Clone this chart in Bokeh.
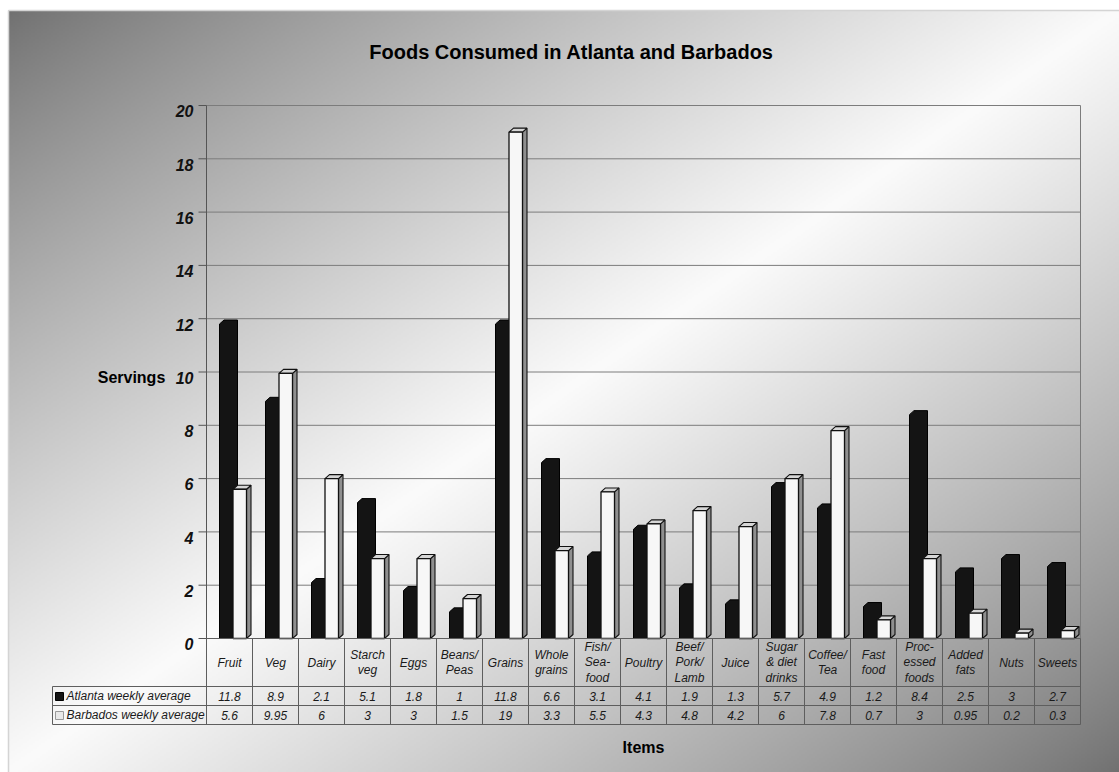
import numpy as np
from bokeh.plotting import figure
from bokeh.models import Range1d
from bokeh.core.properties import value
from bokeh.embed import file_html
from bokeh.resources import INLINE

# ---- data -------------------------------------------------------------
categories = ["Fruit", "Veg", "Dairy", "Starch\nveg", "Eggs", "Beans/\nPeas",
              "Grains", "Whole\ngrains", "Fish/\nSea-\nfood", "Poultry",
              "Beef/\nPork/\nLamb", "Juice", "Sugar\n& diet\ndrinks",
              "Coffee/\nTea", "Fast\nfood", "Proc-\nessed\nfoods",
              "Added\nfats", "Nuts", "Sweets"]
atlanta = [11.8, 8.9, 2.1, 5.1, 1.8, 1, 11.8, 6.6, 3.1, 4.1, 1.9, 1.3, 5.7,
           4.9, 1.2, 8.4, 2.5, 3, 2.7]
barbados = [5.6, 9.95, 6, 3, 3, 1.5, 19, 3.3, 5.5, 4.3, 4.8, 4.2, 6, 7.8,
            0.7, 3, 0.95, 0.2, 0.3]
series_names = ["Atlanta weekly average", "Barbados weekly average"]
y_ticks = [0, 2, 4, 6, 8, 10, 12, 14, 16, 18, 20]
title_text = "Foods Consumed in Atlanta and Barbados"
y_title = "Servings"
x_title = "Items"

# ---- layout (pixels on the page) ---------------------------------------
W, H = 1119, 772
PANEL_L, PANEL_T = 8, 10
PLOT_L, PLOT_R, PLOT_T, PLOT_B = 206, 1080, 105, 638
Y_MAX = 20
n = len(categories)
COL = (PLOT_R - PLOT_L) / n          # pixels per category
UNIT = (PLOT_B - PLOT_T) / Y_MAX     # pixels per serving


def X(px):
    return (px - PLOT_L) / COL


def Y(py):
    return (PLOT_B - py) / UNIT


FONT = value("Liberation Sans")
TABLE_SIZE = "12px"

p = figure(width=W, height=H, x_range=Range1d(X(0), X(W)),
           y_range=Range1d(Y(H), Y(0)), output_backend="svg",
           toolbar_location=None, min_border=0, x_axis_type=None,
           y_axis_type=None, outline_line_color=None)
p.background_fill_color = "white"
p.border_fill_color = "white"

# ---- background: diagonal grey-white-grey panel ------------------------
gw, gh = 556, 381
u = (np.arange(gw) + 0.5) / gw
v = (np.arange(gh) + 0.5) / gh
t = (u[None, :] + v[:, None]) / 2.0
s = (1.0 - np.abs(2.0 * t - 1.0)) ** 0.85
dark, light = 112.0, 251.0
g = (dark + (light - dark) * s).astype(np.uint8)
img = np.empty((gh, gw), dtype=np.uint32)
view = img.view(dtype=np.uint8).reshape((gh, gw, 4))
view[:, :, 0] = g
view[:, :, 1] = g
view[:, :, 2] = g
view[:, :, 3] = 255
img = np.flipud(img)
p.image_rgba(image=[img], x=X(PANEL_L), y=Y(H), dw=(W - PANEL_L) / COL,
             dh=(H - PANEL_T) / UNIT)
p.segment(x0=[X(PANEL_L), X(PANEL_L)], y0=[Y(PANEL_T), Y(PANEL_T)],
          x1=[X(W), X(PANEL_L)], y1=[Y(PANEL_T), Y(H)],
          line_color="#d4d4d4", line_width=1.5)

# ---- plot frame, grid, y axis ------------------------------------------
p.segment(x0=X(PLOT_L), x1=X(PLOT_R), y0=y_ticks, y1=y_ticks,
          line_color="#7c7c7c", line_width=1)
p.segment(x0=[X(PLOT_R)], x1=[X(PLOT_R)], y0=[0], y1=[Y_MAX],
          line_color="#7c7c7c", line_width=1)
p.segment(x0=[X(PLOT_L)], x1=[X(PLOT_L)], y0=[0], y1=[Y_MAX],
          line_color="#555555", line_width=1)
p.segment(x0=X(PLOT_L - 8), x1=X(PLOT_L), y0=y_ticks, y1=y_ticks,
          line_color="#555555", line_width=1)
p.text(x=X(193), y=[tk - 5.8 / UNIT for tk in y_ticks],
       text=[str(tk) for tk in y_ticks], text_align="right",
       text_baseline="alphabetic", text_font=FONT, text_font_size="16px",
       text_font_style="bold italic", text_color="#111111")

# ---- 3D bars -----------------------------------------------------------
idx = np.arange(n)
off_a = 13 / COL
bw = 13.5 / COL
dx = 4.5 / COL
dy = 4 / UNIT

# Atlanta: solid black prisms
xs_a, ys_a = [], []
for i, val in zip(idx, atlanta):
    x0 = i + off_a
    x1 = x0 + bw
    xs_a.append([x0, x0, x0 + dx, x1 + dx, x1 + dx, x1])
    ys_a.append([0, val, val + dy, val + dy, dy, 0])
p.patches(xs=xs_a, ys=ys_a, fill_color="#141414", line_color="#000000",
          line_width=1)

# Barbados: white prisms with grey side and light top
xs_side, ys_side, xs_top, ys_top = [], [], [], []
left_b, right_b = [], []
for i, val in zip(idx, barbados):
    x0 = i + off_a + bw
    x1 = x0 + bw
    left_b.append(x0)
    right_b.append(x1)
    xs_side.append([x1, x1 + dx, x1 + dx, x1])
    ys_side.append([0, dy, val + dy, val])
    xs_top.append([x0, x0 + dx, x1 + dx, x1])
    ys_top.append([val, val + dy, val + dy, val])
p.patches(xs=xs_side, ys=ys_side, fill_color="#8f8f8f", line_color="#111111",
          line_width=1.1)
p.patches(xs=xs_top, ys=ys_top, fill_color="#d6d6d6", line_color="#111111",
          line_width=1.1)
p.quad(left=left_b, right=right_b, bottom=0, top=barbados,
       fill_color="#f7f7f7", line_color="#111111", line_width=1.3)

# ---- data table below the plot -----------------------------------------
ROW0, ROW1, ROW2, ROW3 = PLOT_B, 686, 705, 724
LEG_L = 52
grid_col = "#5e5e5e"
hx0 = [X(PLOT_L), X(LEG_L), X(LEG_L), X(LEG_L)]
hx1 = [X(PLOT_R)] * 4
hy = [Y(ROW0), Y(ROW1), Y(ROW2), Y(ROW3)]
p.segment(x0=hx0, x1=hx1, y0=hy, y1=hy, line_color=grid_col, line_width=1)
vx = [X(PLOT_L) + k for k in range(n + 1)]
p.segment(x0=vx, x1=vx, y0=Y(ROW0), y1=Y(ROW3), line_color=grid_col,
          line_width=1)
p.segment(x0=[X(LEG_L)], x1=[X(LEG_L)], y0=[Y(ROW1)], y1=[Y(ROW3)],
          line_color=grid_col, line_width=1)

p.text(x=idx + 0.5, y=Y((ROW0 + ROW1) / 2), text=categories,
       text_align="center", text_baseline="middle", text_font=FONT,
       text_font_size=TABLE_SIZE, text_font_style="italic",
       text_line_height=1.12, text_color="#1a1a1a")
p.text(x=idx + 0.5, y=Y((ROW1 + ROW2) / 2),
       text=[f"{val:g}" for val in atlanta], text_align="center",
       text_baseline="middle", text_font=FONT, text_font_size=TABLE_SIZE,
       text_font_style="italic", text_color="#1a1a1a")
p.text(x=idx + 0.5, y=Y((ROW2 + ROW3) / 2),
       text=[f"{val:g}" for val in barbados], text_align="center",
       text_baseline="middle", text_font=FONT, text_font_size=TABLE_SIZE,
       text_font_style="italic", text_color="#1a1a1a")

# legend keys inside the table
p.quad(left=[X(55)], right=[X(63)], top=[Y(692)], bottom=[Y(700)],
       fill_color="#141414", line_color="#000000", line_width=1)
p.quad(left=[X(55)], right=[X(63)], top=[Y(711)], bottom=[Y(719)],
       fill_color="#e8e8e8", line_color="#9a9a9a", line_width=1)
p.text(x=[X(66), X(66)], y=[Y((ROW1 + ROW2) / 2), Y((ROW2 + ROW3) / 2)],
       text=series_names, text_align="left", text_baseline="middle",
       text_font=FONT, text_font_size=TABLE_SIZE, text_font_style="italic",
       text_color="#1a1a1a")

# ---- titles ------------------------------------------------------------
p.text(x=[X(571)], y=[Y(51)], text=[title_text], text_align="center",
       text_baseline="alphabetic", text_font=FONT, text_font_size="20px",
       text_font_style="bold", text_color="#000000")
p.text(x=[X(131)], y=[Y(377)], text=[y_title], text_align="center",
       text_baseline="alphabetic", text_font=FONT, text_font_size="16px",
       text_font_style="bold", text_color="#000000")
p.text(x=[X(643)], y=[Y(747)], text=[x_title], text_align="center",
       text_baseline="alphabetic", text_font=FONT, text_font_size="16px",
       text_font_style="bold", text_color="#000000")

open("out.html", "w").write(file_html(p, INLINE))
